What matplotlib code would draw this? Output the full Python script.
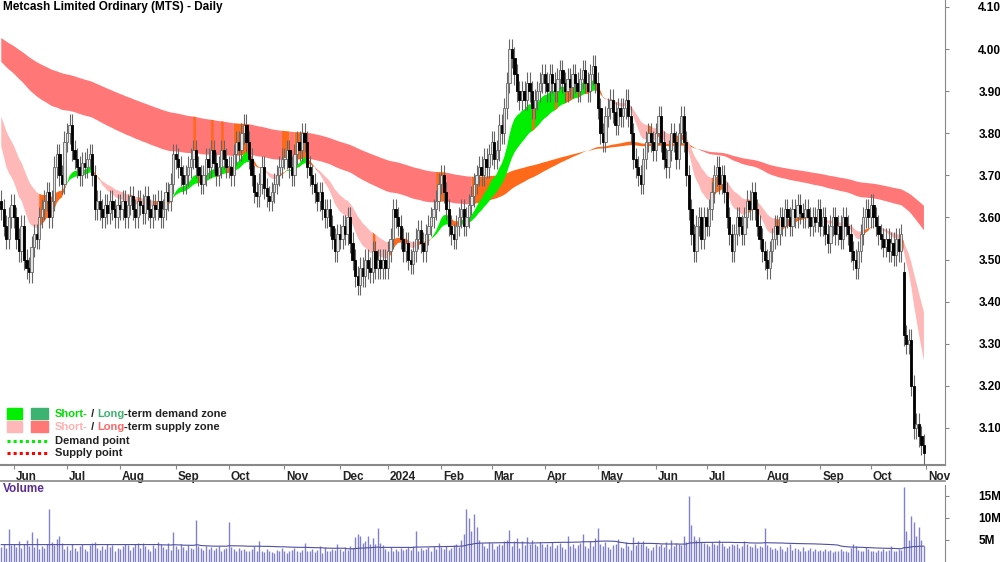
import numpy as np
import matplotlib
matplotlib.use("Agg")
import matplotlib.pyplot as plt
from matplotlib.patches import Rectangle
from matplotlib.transforms import blended_transform_factory

month_labels = ["May", "Jun", "Jul", "Aug", "Sep", "Oct", "Nov", "Dec", "2024", "Feb", "Mar",
                "Apr", "May", "Jun", "Jul", "Aug", "Sep", "Oct"]
closes_by_month = [
    [3.62, 3.58, 3.55, 3.60, 3.63],
    [3.60, 3.55, 3.52, 3.58, 3.50, 3.48, 3.47, 3.53, 3.56, 3.55, 3.60, 3.62, 3.64, 3.66, 3.60, 3.64, 3.72, 3.75, 3.70, 3.68, 3.78],
    [3.80, 3.82, 3.76, 3.74, 3.72, 3.70, 3.73, 3.72, 3.74, 3.75, 3.70, 3.62, 3.64, 3.62, 3.60, 3.63, 3.61, 3.64, 3.62, 3.60, 3.63],
    [3.62, 3.64, 3.60, 3.63, 3.65, 3.62, 3.60, 3.64, 3.63, 3.61, 3.65, 3.62, 3.60, 3.63, 3.62, 3.64, 3.60, 3.62, 3.66, 3.64, 3.68, 3.75],
    [3.74, 3.72, 3.70, 3.68, 3.70, 3.72, 3.74, 3.76, 3.72, 3.70, 3.68, 3.70, 3.74, 3.72, 3.76, 3.73, 3.70, 3.72, 3.76, 3.74, 3.72],
    [3.72, 3.70, 3.75, 3.78, 3.76, 3.80, 3.82, 3.78, 3.74, 3.70, 3.66, 3.65, 3.68, 3.72, 3.67, 3.65, 3.64, 3.66, 3.68, 3.70, 3.72, 3.74],
    [3.74, 3.76, 3.72, 3.70, 3.75, 3.78, 3.76, 3.80, 3.78, 3.72, 3.70, 3.68, 3.66, 3.64, 3.66, 3.62, 3.60, 3.62, 3.58, 3.55, 3.52, 3.56],
    [3.55, 3.58, 3.56, 3.60, 3.54, 3.50, 3.46, 3.44, 3.48, 3.46, 3.50, 3.48, 3.47, 3.52, 3.48, 3.50, 3.48, 3.50, 3.48],
    [3.52, 3.55, 3.62, 3.60, 3.58, 3.55, 3.52, 3.54, 3.50, 3.49, 3.52, 3.55, 3.57, 3.54, 3.52, 3.56, 3.58, 3.60, 3.62, 3.64, 3.68],
    [3.70, 3.66, 3.62, 3.58, 3.56, 3.55, 3.58, 3.60, 3.62, 3.58, 3.60, 3.63, 3.65, 3.68, 3.70, 3.72, 3.70, 3.74, 3.72, 3.75],
    [3.78, 3.74, 3.76, 3.82, 3.80, 3.86, 3.92, 4.00, 3.98, 3.94, 3.90, 3.88, 3.90, 3.88, 3.92, 3.90, 3.86, 3.88, 3.90, 3.92, 3.94],
    [3.92, 3.90, 3.94, 3.92, 3.90, 3.93, 3.95, 3.92, 3.90, 3.93, 3.91, 3.94, 3.92, 3.90, 3.93, 3.95, 3.92, 3.90, 3.94, 3.96, 3.92],
    [3.86, 3.80, 3.78, 3.84, 3.86, 3.88, 3.85, 3.82, 3.86, 3.84, 3.86, 3.88, 3.84, 3.80, 3.74, 3.72, 3.70, 3.68, 3.74, 3.78, 3.80, 3.78, 3.76],
    [3.80, 3.84, 3.78, 3.74, 3.72, 3.76, 3.80, 3.78, 3.74, 3.80, 3.84, 3.78, 3.70, 3.62, 3.56, 3.52, 3.58, 3.60, 3.55, 3.60],
    [3.58, 3.62, 3.66, 3.70, 3.72, 3.68, 3.70, 3.66, 3.60, 3.56, 3.52, 3.56, 3.60, 3.58, 3.56, 3.60, 3.64, 3.62, 3.66, 3.62, 3.58, 3.55, 3.52],
    [3.50, 3.48, 3.52, 3.55, 3.58, 3.56, 3.60, 3.58, 3.62, 3.60, 3.58, 3.62, 3.60, 3.63, 3.61, 3.60, 3.62, 3.60, 3.58, 3.60, 3.59, 3.62],
    [3.58, 3.60, 3.56, 3.54, 3.58, 3.60, 3.56, 3.58, 3.55, 3.60, 3.58, 3.56, 3.52, 3.50, 3.48, 3.52, 3.56, 3.60, 3.62, 3.60],
    [3.63, 3.60, 3.58, 3.56, 3.55, 3.53, 3.55, 3.52, 3.54, 3.51, 3.55, 3.52, 3.56, 3.32, 3.30, 3.31, 3.20, 3.10, 3.11, 3.08, 3.06, 3.04],
]
volume_by_month = [
    [3.5, 4.0, 3.2, 7.5, 3.8],
    [4.2, 3.5, 4.8, 3.2, 4.0, 5.0, 3.6, 6.8, 3.4, 5.5, 3.0, 3.6, 3.2, 4.0, 12.0, 4.5, 3.8, 5.2, 6.0, 4.4, 3.0],
    [3.6, 2.8, 4.0, 3.2, 2.5, 3.6, 4.2, 3.0, 2.6, 3.8, 4.4, 4.6, 3.2, 2.8, 3.6, 3.0, 4.0, 3.4, 3.8, 2.6, 3.2],
    [3.0, 3.6, 4.2, 3.8, 2.8, 3.4, 4.2, 4.4, 3.2, 4.4, 3.6, 3.0, 2.6, 3.8, 3.2, 4.6, 4.2, 3.4, 3.0, 4.4, 2.8, 6.8],
    [3.6, 3.0, 4.0, 3.4, 2.8, 3.8, 3.2, 3.0, 9.5, 3.6, 3.2, 2.8, 3.6, 3.0, 3.4, 2.8, 3.2, 3.6, 2.6, 3.0, 3.2],
    [9.0, 3.4, 3.0, 2.6, 3.2, 2.8, 3.0, 2.6, 2.4, 3.0, 3.6, 2.6, 4.8, 2.4, 2.2, 3.0, 2.6, 2.2, 2.0, 2.8, 2.4, 3.2],
    [2.6, 2.0, 2.4, 2.8, 3.2, 2.6, 2.2, 2.8, 4.4, 2.4, 2.6, 3.0, 2.2, 2.8, 3.6, 2.0, 3.4, 2.6, 2.4, 3.0, 2.8, 4.0],
    [3.0, 2.6, 3.4, 2.8, 3.6, 3.2, 5.6, 6.4, 5.8, 4.4, 4.8, 6.0, 4.2, 5.4, 4.0, 7.8, 4.4, 3.8, 3.0],
    [2.4, 3.4, 2.6, 3.0, 2.4, 3.2, 2.8, 3.0, 3.4, 2.8, 3.6, 7.0, 2.6, 3.2, 2.8, 3.0, 3.4, 2.6, 3.6, 3.0, 4.4],
    [3.4, 3.0, 3.6, 2.8, 3.2, 3.8, 4.0, 3.4, 5.0, 6.4, 12.0, 10.0, 7.0, 11.0, 8.0, 5.0, 4.4, 3.6, 3.2, 4.6],
    [4.4, 3.0, 3.6, 4.2, 3.8, 4.8, 5.0, 7.2, 3.6, 4.8, 5.4, 3.2, 4.8, 3.8, 5.6, 4.2, 5.0, 4.2, 3.6, 4.6, 4.0],
    [3.4, 4.0, 3.6, 4.6, 3.2, 3.8, 4.4, 3.4, 3.0, 5.8, 3.6, 4.0, 3.2, 3.8, 4.4, 6.4, 3.6, 3.2, 4.8, 3.6, 5.4],
    [7.8, 4.2, 3.6, 4.6, 3.4, 3.0, 3.8, 4.0, 5.2, 3.4, 3.2, 4.6, 3.6, 2.8, 5.6, 3.8, 4.8, 4.2, 4.8, 3.6, 3.2, 2.8, 3.4],
    [4.0, 3.6, 4.2, 3.4, 4.6, 3.0, 5.0, 3.6, 4.4, 4.2, 3.8, 6.0, 4.6, 15.0, 8.4, 6.0, 5.0, 5.6, 4.6, 4.4],
    [4.0, 3.6, 4.6, 4.2, 3.8, 5.0, 4.4, 3.6, 3.2, 3.6, 4.2, 3.8, 4.0, 3.2, 3.6, 4.8, 4.2, 3.6, 3.4, 4.0, 3.2, 3.6, 3.4],
    [7.8, 3.8, 3.4, 3.0, 3.2, 2.8, 3.6, 3.0, 2.6, 3.4, 4.0, 2.8, 3.2, 3.0, 2.6, 3.4, 2.4, 2.8, 3.2, 2.6, 3.0, 2.4],
    [2.8, 2.6, 3.0, 2.4, 2.8, 2.2, 2.6, 2.4, 3.0, 2.6, 2.4, 2.2, 3.2, 4.0, 3.6, 2.8, 2.4, 2.6, 3.4, 3.0],
    [2.6, 2.4, 2.2, 2.8, 2.4, 3.0, 2.6, 2.8, 3.6, 2.6, 2.4, 3.0, 2.8, 17.0, 7.0, 5.0, 10.5, 9.0, 6.0, 8.0, 5.0, 3.6],
]

closes = np.array([c for m in closes_by_month for c in m])
volume = np.array([v for m in volume_by_month for v in m]) * 1e6
n = len(closes)
x = np.arange(n)
opens = np.concatenate([[closes[0] + 0.02], closes[:-1]])
opens[-9] = 3.47
highs = np.maximum(opens, closes) + 0.025
lows = np.minimum(opens, closes) - 0.025

def ema(vals, span, seed):
    a = 2.0 / (span + 1)
    out = np.empty(len(vals))
    prev = seed
    for i, v in enumerate(vals):
        prev = prev + a * (v - prev)
        out[i] = prev
    return out

s_fast = ema(closes, 15, 3.79)
s_slow = ema(closes, 30, 3.855)
l_fast = ema(closes, 130, 3.975)
l_slow = ema(closes, 220, 4.03)

W, H = 1000, 562
fig = plt.figure(figsize=(10, 5.62), dpi=100)
ax = fig.add_axes([0, 97 / H, 945 / W, 465 / H])
axv = fig.add_axes([0, 0, 945 / W, 77 / H])

xmax = n - 1 + (945 - 924) / 2.52
y_top = 4.10 + 7 / 421
y_bot = 3.10 - 37 / 421
ax.set_xlim(-0.5, xmax)
ax.set_ylim(y_bot, y_top)

ORANGE = "#ff6a1a"
def band(f, s, demand_col, supply_col, long=False):
    dem = f >= s
    up = np.maximum(f, s)
    lo = np.minimum(f, s)
    if long:
        c_dem_or = dem
        c_dem = np.zeros(n, bool)
    else:
        c_dem = dem & (closes >= up)
        c_dem_or = dem & ~c_dem
    c_sup = (~dem) & (closes <= lo)
    c_sup_or = (~dem) & ~c_sup
    for mask, col in [(c_sup, supply_col), (c_sup_or, ORANGE), (c_dem, demand_col), (c_dem_or, ORANGE)]:
        m = mask.copy()
        m[1:] |= mask[:-1]
        ax.fill_between(x, lo, up, where=m, color=col, lw=0, zorder=1)

band(l_fast, l_slow, "#3cb371", "#ff7777", long=True)
band(s_fast, s_slow, "#00ee00", "#ffb8b8")

for i in range(n):
    up_day = closes[i] >= opens[i]
    ax.vlines(i, lows[i], highs[i], color="#666666", lw=0.8, zorder=3)
    bot = min(opens[i], closes[i])
    h = max(abs(closes[i] - opens[i]), 0.003)
    ax.add_patch(Rectangle((i - 0.45, bot), 0.9, h,
                           facecolor="#e4e4e4" if up_day else "black",
                           edgecolor="#666666" if up_day else "black", lw=0.6, zorder=4))

starts = np.cumsum([0] + [len(m) for m in closes_by_month])
tick_pos = list(starts[1:])
tick_lab = month_labels[1:] + ["Nov"]
ax.set_xticks(tick_pos)
ax.set_xticklabels([])
ax.tick_params(axis="x", direction="out", length=3, color="#888888")
trans = blended_transform_factory(ax.transData, ax.transAxes)
for p, lab in zip(tick_pos, tick_lab):
    ax.text(p + 0.8, -0.012, lab, transform=trans, ha="left", va="top",
            fontsize=8.5, fontweight="bold", color="#222222", family="Liberation Sans")

ax.yaxis.tick_right()
yt = [3.10, 3.20, 3.30, 3.40, 3.50, 3.60, 3.70, 3.80, 3.90, 4.00, 4.10]
ax.set_yticks(yt)
ax.set_yticklabels([f"{v:.2f}" for v in yt], fontsize=8.5, fontweight="bold", family="Liberation Sans")
ax.tick_params(axis="y", direction="out", length=3, color="#888888", pad=21)
for sp in ["top", "left"]:
    ax.spines[sp].set_visible(False)
ax.spines["right"].set_color("#888888")
ax.spines["bottom"].set_color("#888888")
ax.spines["bottom"].set_linewidth(1.5)

ax.text(0.003, 0.997, "Metcash Limited Ordinary (MTS) - Daily", transform=ax.transAxes,
        ha="left", va="top", fontsize=8.5, fontweight="bold", family="Liberation Sans")

def fx(px): return px / W
def fy(py): return 1 - py / H
fig.patches.append(Rectangle((fx(7), fy(419)), 15 / W, 11 / H, color="#00ee00", transform=fig.transFigure))
fig.patches.append(Rectangle((fx(31), fy(419)), 17 / W, 11 / H, color="#3cb371", transform=fig.transFigure))
fig.patches.append(Rectangle((fx(7), fy(432)), 15 / W, 11 / H, color="#ffb8b8", transform=fig.transFigure))
fig.patches.append(Rectangle((fx(31), fy(432)), 17 / W, 11 / H, color="#ff7777", transform=fig.transFigure))
fig.add_artist(plt.Line2D([fx(7), fx(47)], [fy(441), fy(441)], color="#00ee00", ls=(0, (1, 1)), lw=2.2, transform=fig.transFigure))
fig.add_artist(plt.Line2D([fx(7), fx(47)], [fy(453), fy(453)], color="red", ls=(0, (1, 1)), lw=2.2, transform=fig.transFigure))
lk = dict(fontsize=8, fontweight="bold", family="Liberation Sans", va="center", ha="left")
def seq(py, parts):
    xx = fx(55)
    r = fig.canvas.get_renderer()
    for s, c in parts:
        t = fig.text(xx, fy(py), s, color=c, **lk)
        bb = t.get_window_extent(r)
        xx += bb.width / W
seq(414, [("Short-", "#00dd00"), (" / ", "#222222"), ("Long", "#3cb371"), ("-term demand zone", "#222222")])
seq(427, [("Short-", "#ffb0b0"), (" / ", "#222222"), ("Long", "#ff6666"), ("-term supply zone", "#222222")])
seq(441, [("Demand point", "#222222")])
seq(453, [("Supply point", "#222222")])

axv.set_xlim(-0.5, xmax)
axv.set_ylim(0, 17.5e6)
axv.vlines(x, 0, volume, color="#8080cc", lw=1.0)
vma = np.convolve(volume, np.ones(60) / 60, mode="full")[:n]
vma[:60] = vma[60]
axv.plot(x, vma, color="#5050a0", lw=0.8)
axv.yaxis.tick_right()
axv.set_yticks([5e6, 10e6, 15e6])
axv.set_yticklabels(["5M", "10M", "15M"], fontsize=8.5, fontweight="bold", family="Liberation Sans")
axv.tick_params(axis="y", direction="out", length=3, color="#888888", pad=21)
axv.set_xticks([])
for sp in ["top", "left", "bottom"]:
    axv.spines[sp].set_visible(False)
axv.spines["right"].set_color("#888888")
fig.text(fx(3), fy(489), "Volume", color="#5a2d91", fontsize=8.5, fontweight="bold",
         family="Liberation Sans", va="center", ha="left")
fig.add_artist(plt.Line2D([0, 945 / W], [fy(481), fy(481)], color="#888888", lw=1.2, transform=fig.transFigure))

fig.savefig("out.png", dpi=100)
